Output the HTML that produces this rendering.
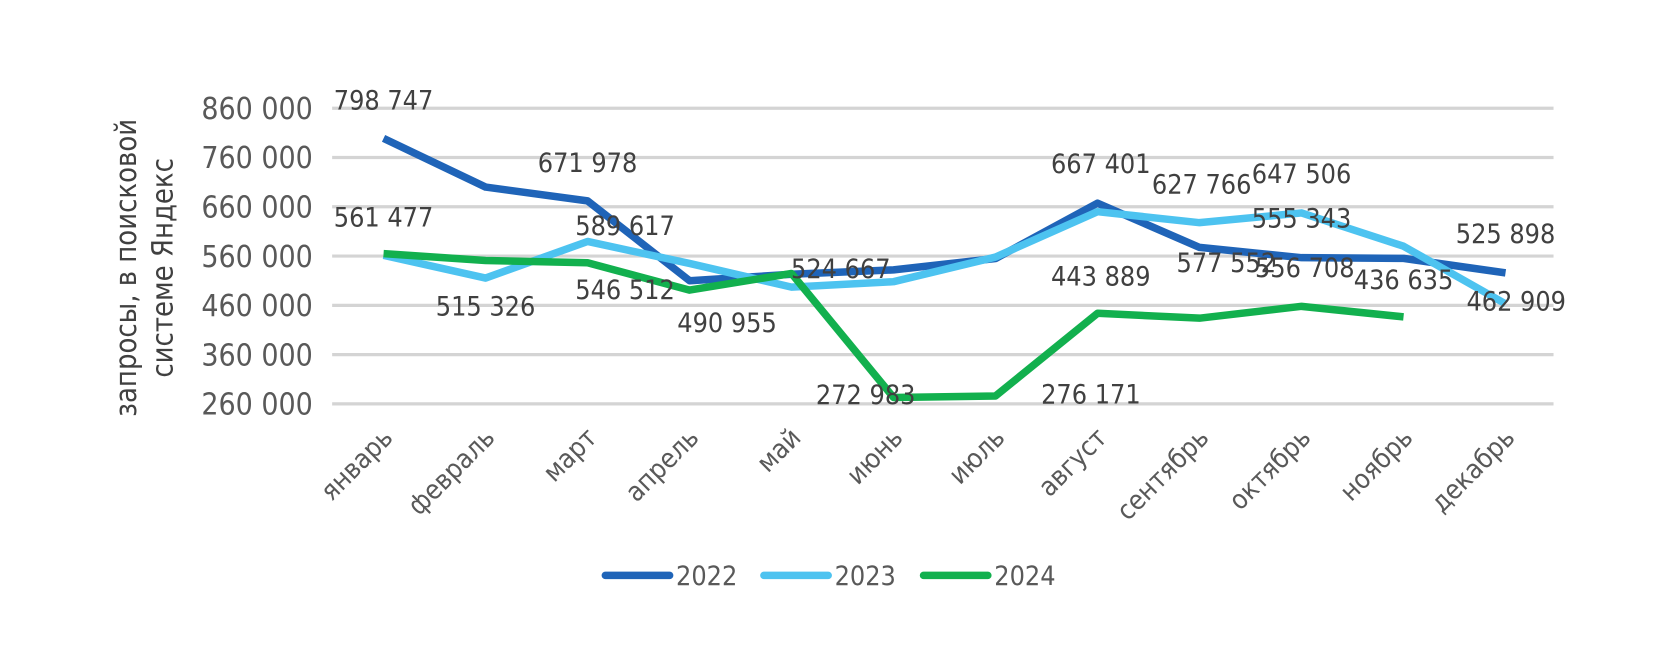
<!DOCTYPE html>
<html><head><meta charset="utf-8"><style>
body{margin:0;background:#fff;}
svg{display:block;font-family:"DejaVu Sans Condensed","DejaVu Sans","Liberation Sans",sans-serif;}
</style></head><body>
<svg width="1680" height="671" viewBox="0 0 1680 671"><g id="chart" transform="scale(1.0714)"></g></svg>
<script>
const categories=["январь","февраль","март","апрель","май","июнь","июль","август","сентябрь","октябрь","ноябрь","декабрь"];
const s2022=[798747,700000,671978,510000,523000,532000,555000,667401,577552,556708,555343,525898];
const s2023=[561477,515326,589617,545000,497000,508000,558000,650000,627766,647506,580000,462909];
const s2024=[565000,551000,546512,490955,524667,272983,276171,443889,434000,458000,436635,null];
const yTicks=[260000,360000,460000,560000,660000,760000,860000];
const labelTexts=["798 747","671 978","561 477","589 617","515 326","546 512","490 955","524 667","272 983","276 171","443 889","667 401","627 766","647 506","555 343","577 552","556 708","436 635","525 898","462 909"];
const labelIdx=[0,2,0,2,1,2,3,4,5,6,7,7,8,9,9,8,9,10,11,11];
const labelVal=[798747,671978,561477,589617,515326,546512,490955,524667,272983,276171,443889,667401,627766,647506,555343,577552,556708,436635,525898,462909];
const labelDy=[-36,-36,-36,-15,26,25,30,-5,-3,-2,-35,-37,-36,-37,-38,14,9,-35,-37,-3];
const labelDx=[0,0,0,35,0,35,35,46,-26,89,3,3,2,0,0,25,3,0,0,10];

const NS="http://www.w3.org/2000/svg";
const svg=document.getElementById('chart');
const x0=358,dx=95.2,yTop=101,yBot=377,vTop=860000,vBot=260000;
const xs=i=>x0+i*dx;
const ys=v=>yBot-(v-vBot)/(vTop-vBot)*(yBot-yTop);
function mk(t,a,txt){const e=document.createElementNS(NS,t);for(const k in a)e.setAttribute(k,a[k]);if(txt!==undefined)e.textContent=txt;svg.appendChild(e);return e;}

yTicks.forEach(v=>{
 const g=mk('line',{x1:310,x2:1450,y1:ys(v),y2:ys(v),stroke:'#d4d4d4','stroke-width':3});
 
 
 const t=mk('text',{x:292,y:ys(v)+10,'text-anchor':'end','font-size':28,fill:'#595959'},v.toLocaleString('ru-RU').replace(/\s/g,' '));
 
 
});
const yt=mk('text',{transform:'translate(127,250) rotate(-90)','text-anchor':'middle','font-size':27,fill:'#404040'});


const ts1=document.createElementNS(NS,'tspan');ts1.setAttribute('x',0);ts1.setAttribute('y',0);ts1.textContent='запросы, в поисковой';yt.appendChild(ts1);
const ts2=document.createElementNS(NS,'tspan');ts2.setAttribute('x',0);ts2.setAttribute('y',34);ts2.textContent='системе Яндекс';yt.appendChild(ts2);

categories.forEach((c,i)=>{
 const t=mk('text',{transform:`translate(${xs(i)+10},${410}) rotate(-45)`,'text-anchor':'end','font-size':25,fill:'#595959'},c);
 
 
});

const series=[[s2022,'#1f64b8','2022'],[s2023,'#4dc3f0','2023'],[s2024,'#12b04e','2024']];
series.forEach(([d,col,name])=>{
 let p='';d.forEach((v,i)=>{if(v!==null)p+=(p?'L':'M')+xs(i)+','+ys(v);});
 const l=mk('path',{d:p,fill:'none',stroke:col,'stroke-width':7,'stroke-linejoin':'round'});
 
 
});

labelTexts.forEach((t,k)=>{
 const e=mk('text',{x:xs(labelIdx[k])+labelDx[k],y:ys(labelVal[k])+labelDy[k]+9,'text-anchor':'middle','font-size':25,fill:'#404040'},t);
 
 
});

const legX=[565,713,862];
series.forEach(([d,col,name],k)=>{
 const l=mk('line',{x1:legX[k],x2:legX[k]+60,y1:537,y2:537,stroke:col,'stroke-width':7,'stroke-linecap':'round'});
 
 
 const t=mk('text',{x:legX[k]+66,y:546,'font-size':25,fill:'#595959'},name);
 
 
});
</script>
</body></html>
